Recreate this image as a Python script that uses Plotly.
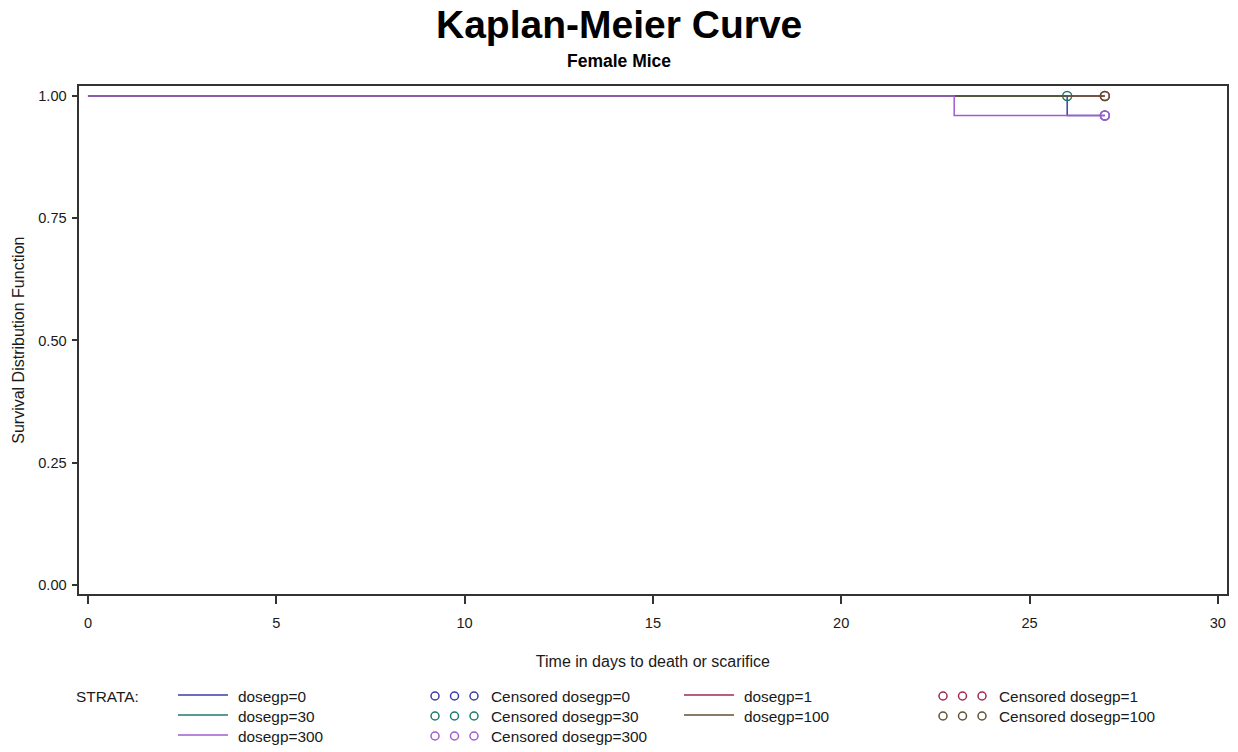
import plotly.graph_objects as go

# Kaplan-Meier step data per dose group (time in days, survival estimate)
strata = ["dosegp=0", "dosegp=1", "dosegp=30", "dosegp=100", "dosegp=300"]
colors = ["#3c3ca8", "#a3294f", "#1f7a6e", "#5f5230", "#a05cd0"]

km_time_0 = [0, 26, 27]
km_surv_0 = [1.0, 0.96, 0.96]
km_time_1 = [0, 27]
km_surv_1 = [1.0, 1.0]
km_time_30 = [0, 26]
km_surv_30 = [1.0, 1.0]
km_time_100 = [0, 27]
km_surv_100 = [1.0, 1.0]
km_time_300 = [0, 23, 27]
km_surv_300 = [1.0, 0.96, 0.96]

# Censored observations (time, survival at censoring)
cens_time_0 = [27]
cens_surv_0 = [0.96]
cens_time_1 = [27]
cens_surv_1 = [1.0]
cens_time_30 = [26]
cens_surv_30 = [1.0]
cens_time_100 = [27]
cens_surv_100 = [1.0]
cens_time_300 = [27]
cens_surv_300 = [0.96]

x_ticks = [0, 5, 10, 15, 20, 25, 30]
y_ticks = [0.0, 0.25, 0.5, 0.75, 1.0]

curves = [
    (km_time_0, km_surv_0, cens_time_0, cens_surv_0),
    (km_time_1, km_surv_1, cens_time_1, cens_surv_1),
    (km_time_30, km_surv_30, cens_time_30, cens_surv_30),
    (km_time_100, km_surv_100, cens_time_100, cens_surv_100),
    (km_time_300, km_surv_300, cens_time_300, cens_surv_300),
]

W, H = 1238, 752
FONT = "Liberation Sans, Arial, sans-serif"
TXT = "#1a1a1a"
LEG_SIZE = 15.4

fig = go.Figure()

for name, col, (t, s, ct, cs) in zip(strata, colors, curves):
    fig.add_trace(go.Scatter(
        x=t, y=s, mode="lines", line=dict(color=col, width=1.5, shape="hv"),
        name=name, showlegend=False, hoverinfo="skip"))
    fig.add_trace(go.Scatter(
        x=ct, y=cs, mode="markers",
        marker=dict(symbol="circle-open", size=9, color=col, line=dict(width=1.5, color=col)),
        name="Censored " + name, showlegend=False, hoverinfo="skip"))

# Legend block drawn in a pixel-scaled overlay axis below the plot
line_col_x = [178, 684]
mark_col_x = [435, 943]
row_y = [696, 716, 736]
annotations = []
for k, (name, col) in enumerate(zip(strata, colors)):
    r, c = k // 2, k % 2
    lx, mx, y = line_col_x[c], mark_col_x[c], row_y[r]
    fig.add_trace(go.Scatter(
        x=[lx, lx + 50], y=[y - 1, y - 1], mode="lines", line=dict(color=col, width=1.5),
        xaxis="x2", yaxis="y2", showlegend=False, hoverinfo="skip"))
    fig.add_trace(go.Scatter(
        x=[mx, mx + 19.5, mx + 39], y=[y, y, y], mode="markers",
        marker=dict(symbol="circle-open", size=8, color=col, line=dict(width=1.5, color=col)),
        xaxis="x2", yaxis="y2", showlegend=False, hoverinfo="skip"))
    annotations.append(dict(x=lx + 58, y=y, xref="x2", yref="y2", text=name,
                            showarrow=False, xanchor="left", yanchor="middle",
                            font=dict(family=FONT, size=LEG_SIZE, color=TXT)))
    annotations.append(dict(x=mx + 54, y=y, xref="x2", yref="y2", text="Censored " + name,
                            showarrow=False, xanchor="left", yanchor="middle",
                            font=dict(family=FONT, size=LEG_SIZE, color=TXT)))
annotations.append(dict(x=74, y=696, xref="x2", yref="y2", text="STRATA:",
                        showarrow=False, xanchor="left", yanchor="middle",
                        font=dict(family=FONT, size=LEG_SIZE, color=TXT)))

# Titles
annotations.append(dict(x=0.5, y=1 - 25 / H, xref="paper", yref="paper",
                        text="<b>Kaplan-Meier Curve</b>", showarrow=False,
                        xanchor="center", yanchor="middle",
                        font=dict(family=FONT, size=39, color="#000000")))
annotations.append(dict(x=0.5, y=1 - 61 / H, xref="paper", yref="paper",
                        text="<b>Female Mice</b>", showarrow=False,
                        xanchor="center", yanchor="middle",
                        font=dict(family=FONT, size=17.5, color="#000000")))

plot_l, plot_r, plot_t, plot_b = 79.3, 1226.5, 86, 594.3

fig.update_layout(
    width=W, height=H,
    margin=dict(l=0, r=0, t=0, b=0),
    paper_bgcolor="white", plot_bgcolor="rgba(0,0,0,0)",
    annotations=annotations,
    xaxis=dict(
        domain=[plot_l / W, plot_r / W], range=[-0.23, 30.23],
        tickvals=x_ticks, ticktext=[str(v) for v in x_ticks],
        ticks="outside", ticklen=8, tickwidth=1.5, tickcolor="#333333",
        showline=True, linecolor="#333333", linewidth=1.5, mirror=True,
        showgrid=False, zeroline=False, ticklabelstandoff=6,
        tickfont=dict(family=FONT, size=14.6, color=TXT),
        title=dict(text="Time in days to death or scarifice", standoff=26,
                   font=dict(family=FONT, size=16, color=TXT)),
        anchor="y",
    ),
    yaxis=dict(
        domain=[1 - plot_b / H, 1 - plot_t / H], range=[-0.019, 1.0204],
        tickvals=y_ticks, tickformat=".2f",
        ticks="outside", ticklen=6, tickwidth=1.5, tickcolor="#333333",
        showline=True, linecolor="#333333", linewidth=1.5, mirror=True,
        showgrid=False, zeroline=False, ticklabelstandoff=2,
        tickfont=dict(family=FONT, size=14.6, color=TXT),
        title=dict(text="Survival Distribution Function", standoff=10,
                   font=dict(family=FONT, size=16, color=TXT)),
        anchor="x",
    ),
    xaxis2=dict(domain=[0, 1], range=[0, W], visible=False, anchor="y2", fixedrange=True),
    yaxis2=dict(domain=[0, 1], range=[H, 0], visible=False, anchor="x2", fixedrange=True),
)

fig.write_html("out.html")
